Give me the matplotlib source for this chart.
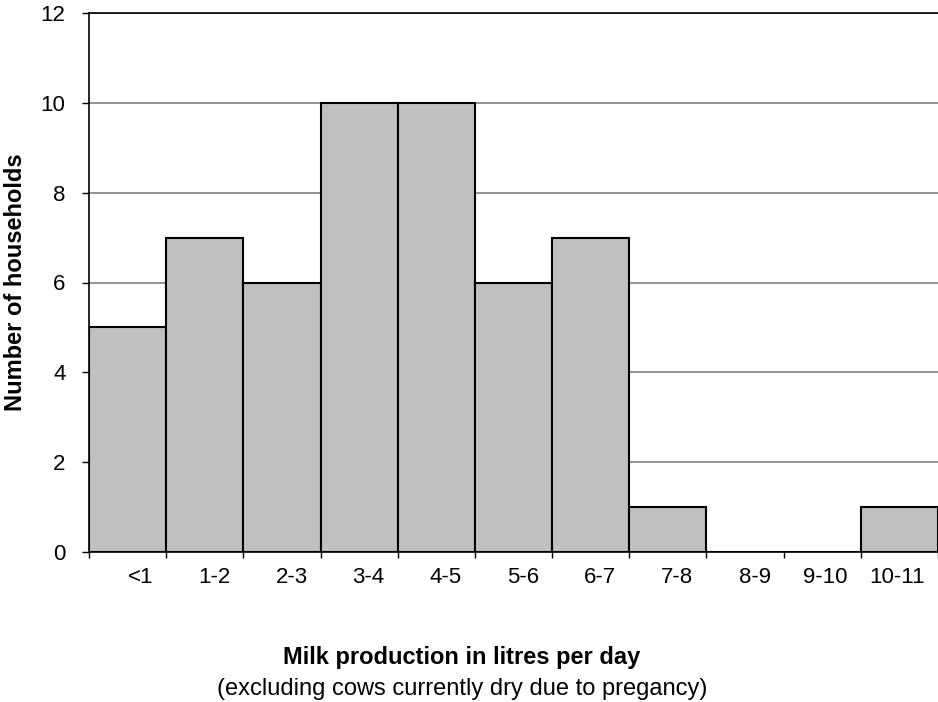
import matplotlib
matplotlib.use("Agg")
import matplotlib.pyplot as plt
import matplotlib.transforms as mtransforms
import numpy as np

plt.rcParams['font.family'] = ['Liberation Sans', 'DejaVu Sans']

categories = ['<1', '1-2', '2-3', '3-4', '4-5', '5-6', '6-7', '7-8', '8-9', '9-10', '10-11']
households = [5, 7, 6, 10, 10, 6, 7, 1, 0, 0, 1]

fig = plt.figure(figsize=(9.38, 7.02), dpi=100)
ax = fig.add_axes([89 / 938, 150 / 702, 849 / 938, 539 / 702])

x = np.arange(len(categories))
ax.bar(x, households, width=1.0, color='#c0c0c0', edgecolor='black', linewidth=1.5, zorder=3)

ax.set_xlim(-0.5, len(categories) - 0.5)
ax.set_ylim(0, 12)
ax.set_yticks(range(0, 13, 2))
ax.yaxis.grid(True, color='#808080', linewidth=1.2, zorder=0)
ax.tick_params(axis='y', labelsize=16, length=5, width=1, pad=12)

# ticks at bar edges; labels right-aligned just inside each bar's right edge
ax.xaxis.remove_overlapping_locs = False
ax.set_xticks(np.arange(len(categories) + 1) - 0.5)
ax.set_xticklabels([])
ax.tick_params(axis='x', length=4.5, width=1)
ax.set_xticks(x + 0.5, minor=True)
ax.set_xticklabels(categories, minor=True, fontsize=16, ha='right')
ax.tick_params(axis='x', which='minor', length=0, pad=11)
offset = mtransforms.ScaledTranslation(-13 / 100, 0, fig.dpi_scale_trans)
for lbl in ax.get_xticklabels(minor=True):
    lbl.set_transform(lbl.get_transform() + offset)

ax.spines['right'].set_visible(False)
ax.spines['top'].set_linewidth(1.2)
ax.spines['left'].set_linewidth(1.2)
ax.spines['bottom'].set_linewidth(1.2)

fig.text(16 / 938, 1 - 282 / 702, 'Number of households', rotation=90,
         ha='center', va='center', fontsize=17, fontweight='bold')

fig.text(462 / 938, 1 - 664 / 702, 'Milk production in litres per day',
         ha='center', va='baseline', fontsize=17, fontweight='bold')
fig.text(462 / 938, 1 - 695 / 702, '(excluding cows currently dry due to pregancy)',
         ha='center', va='baseline', fontsize=17)

fig.savefig('out.png', dpi=100)
